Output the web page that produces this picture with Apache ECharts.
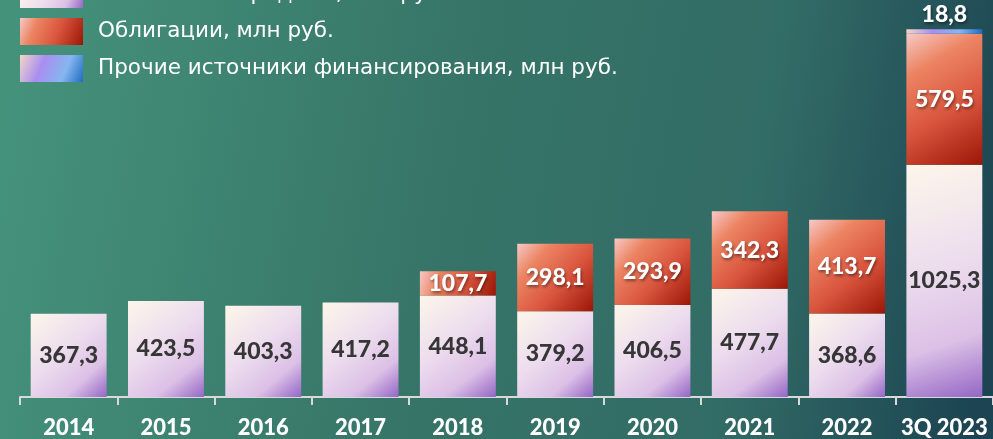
<!DOCTYPE html>
<html>
<head>
<meta charset="utf-8">
<script src="https://cdn.jsdelivr.net/npm/echarts@6/dist/echarts.min.js"></script>
<style>
* { margin: 0; padding: 0; }
html, body { width: 993px; height: 439px; overflow: hidden; }
</style>
</head>
<body>
<!-- контейнер для графика -->
<div id="main" style="width:993px;height:439px;"></div>
<script>
// данные
var years = ["2014", "2015", "2016", "2017", "2018", "2019", "2020", "2021", "2022", "3Q 2023"];
var bankLoans = [367.3, 423.5, 403.3, 417.2, 448.1, 379.2, 406.5, 477.7, 368.6, 1025.3];
var bonds = [null, null, null, null, 107.7, 298.1, 293.9, 342.3, 413.7, 579.5];
var otherSources = [null, null, null, null, null, null, null, null, null, 18.8];
var seriesNames = ["Банковские кредиты, млн руб.", "Облигации, млн руб.", "Прочие источники финансирования, млн руб."];

function fmt(p) {
  return String(p.value).replace(".", ",");
}

var whiteLabel = {
  show: true,
  position: "inside",
  formatter: fmt,
  color: "#ffffff",
  fontSize: 23,
  fontWeight: 900,
  fontFamily: "Lato",
  textShadowColor: "rgba(0,0,0,0.45)",
  textShadowBlur: 3,
  textShadowOffsetX: 1,
  textShadowOffsetY: 2
};

var chart = echarts.init(document.getElementById("main"));
chart.setOption({
  backgroundColor: new echarts.graphic.LinearGradient(0, 0.3, 1, 0.7, [
    { offset: 0, color: "#45927b" },
    { offset: 0.45, color: "#367467" },
    { offset: 0.75, color: "#326c66" },
    { offset: 1, color: "#1c4452" }
  ]),
  animation: false,
  legend: {
    orient: "vertical",
    left: 15,
    top: -24,
    icon: "rect",
    itemWidth: 63,
    itemHeight: 27,
    itemGap: 10,
    data: seriesNames,
    textStyle: {
      color: "#ffffff",
      fontSize: 21.5,
      lineHeight: 27,
      fontFamily: "DejaVu Sans",
      padding: [0, 0, 0, 10]
    }
  },
  grid: {
    left: 20,
    right: -2,
    top: 20,
    bottom: 41
  },
  xAxis: {
    type: "category",
    data: years,
    axisLine: { lineStyle: { color: "#d9d9d9", width: 2 } },
    axisTick: { show: true, length: 8, lineStyle: { color: "#d9d9d9", width: 2 } },
    axisLabel: {
      interval: 0,
      hideOverlap: false,
      color: "#ffffff",
      fontSize: 22,
      fontWeight: 900,
      fontFamily: "Lato",
      margin: 20
    }
  },
  yAxis: {
    type: "value",
    min: 0,
    max: 1665,
    show: false,
    splitLine: { show: false }
  },
  series: [
    {
      name: seriesNames[0],
      type: "bar",
      stack: "total",
      barWidth: "78%",
      data: bankLoans,
      itemStyle: {
        color: new echarts.graphic.LinearGradient(0, 0, 1, 1, [
          { offset: 0, color: "#fdf6ea" },
          { offset: 0.45, color: "#ecdcee" },
          { offset: 0.75, color: "#dcc0e6" },
          { offset: 1, color: "#9466c6" }
        ])
      },
      label: {
        show: true,
        position: "inside",
        formatter: fmt,
        color: "#363636",
        fontSize: 23,
        fontWeight: 900,
        fontFamily: "Lato"
      }
    },
    {
      name: seriesNames[1],
      type: "bar",
      stack: "total",
      data: bonds,
      itemStyle: {
        color: new echarts.graphic.LinearGradient(0, 0, 1, 1, [
          { offset: 0, color: "#f6c9c6" },
          { offset: 0.25, color: "#ec8462" },
          { offset: 0.6, color: "#d9543d" },
          { offset: 1, color: "#9c1606" }
        ])
      },
      label: whiteLabel
    },
    {
      name: seriesNames[2],
      type: "bar",
      stack: "total",
      data: otherSources,
      itemStyle: {
        color: new echarts.graphic.LinearGradient(0, 0, 1, 1, [
          { offset: 0, color: "#f3d6c8" },
          { offset: 0.35, color: "#a98ef0" },
          { offset: 0.7, color: "#86b6f0" },
          { offset: 1, color: "#1f6cc0" }
        ])
      },
      label: Object.assign({}, whiteLabel, { position: "top", distance: 3 })
    }
  ]
});
</script>
</body>
</html>
